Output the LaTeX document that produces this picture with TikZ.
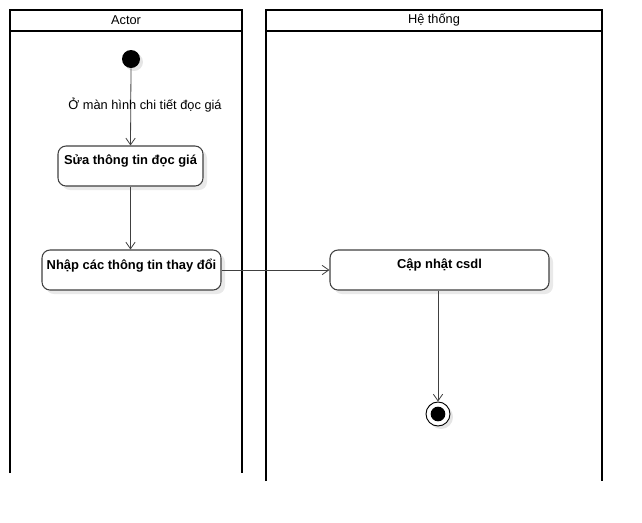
\documentclass[tikz,border=0pt]{standalone}
\usepackage{fontspec}
\setmainfont{Liberation Sans}
\usetikzlibrary{arrows.meta,shadows}
\begin{document}
\begin{tikzpicture}[x=0.75pt,y=-0.75pt,
  lane/.style={line width=1.5pt,draw=black},
  act/.style={draw=black!75,line width=0.8pt,rounded corners=6pt,fill=white,
    drop shadow={shadow xshift=3pt,shadow yshift=-3pt,fill=black!25,opacity=0.35}},
  acttext/.style={font=\bfseries\fontsize{9.7}{11}\selectfont,anchor=north},
  conn/.style={draw=black!75,line width=0.6pt,-{Straight Barb[length=5pt,width=7pt]}},
  lbl/.style={font=\fontsize{9.6}{11}\selectfont}
]
\useasboundingbox (0,0) rectangle (642,522);
% lanes
\draw[lane] (10,473) -- (10,10) -- (242,10) -- (242,473);
\draw[lane] (10,31) -- (242,31);
\node[lbl] (h1) at (126,20) {Actor};
\draw[lane] (266,481) -- (266,10) -- (602,10) -- (602,481);
\draw[lane] (266,31) -- (602,31);
\node[lbl] (h2) at (434,20) {Hệ thống};
% start
\fill[black!20,opacity=0.5] (134,62) circle (9);
\node[circle,fill=black,minimum size=13.5pt,inner sep=0pt] (start) at (131,59) {};
% activities
\node[act,minimum width=108.75pt,minimum height=30pt,inner sep=0pt] (a1) at (130.5,166) {};
\node[acttext] at (130.5,150) {Sửa thông tin đọc giá};
\node[act,minimum width=134.25pt,minimum height=30pt,inner sep=0pt] (a2) at (131.5,270) {};
\node[acttext] at (131.5,254) {Nhập các thông tin thay đổi};
\node[act,minimum width=164.25pt,minimum height=30pt,inner sep=0pt] (a3) at (439.5,270) {};
\node[acttext] at (439.5,254) {Cập nhật csdl};
% end
\fill[black!20,opacity=0.5] (441,417) circle (12);
\node[circle,draw=black,fill=white,line width=0.7pt,minimum size=18pt,inner sep=0pt] (end) at (438,414) {};
\node[circle,fill=black,minimum size=11pt,inner sep=0pt] at (end) {};
% connectors
\draw[conn] (start.south) -- (a1.north);
\node[lbl] (l1) at (145,105) {Ở màn hình chi tiết đọc giá};
\draw[conn] (a1.south) -- (a2.north -| a1.south);
\draw[conn] (a2.east) -- (a3.west);
\draw[conn] (a3.south -| end) -- (end.north);
\end{tikzpicture}
\end{document}
